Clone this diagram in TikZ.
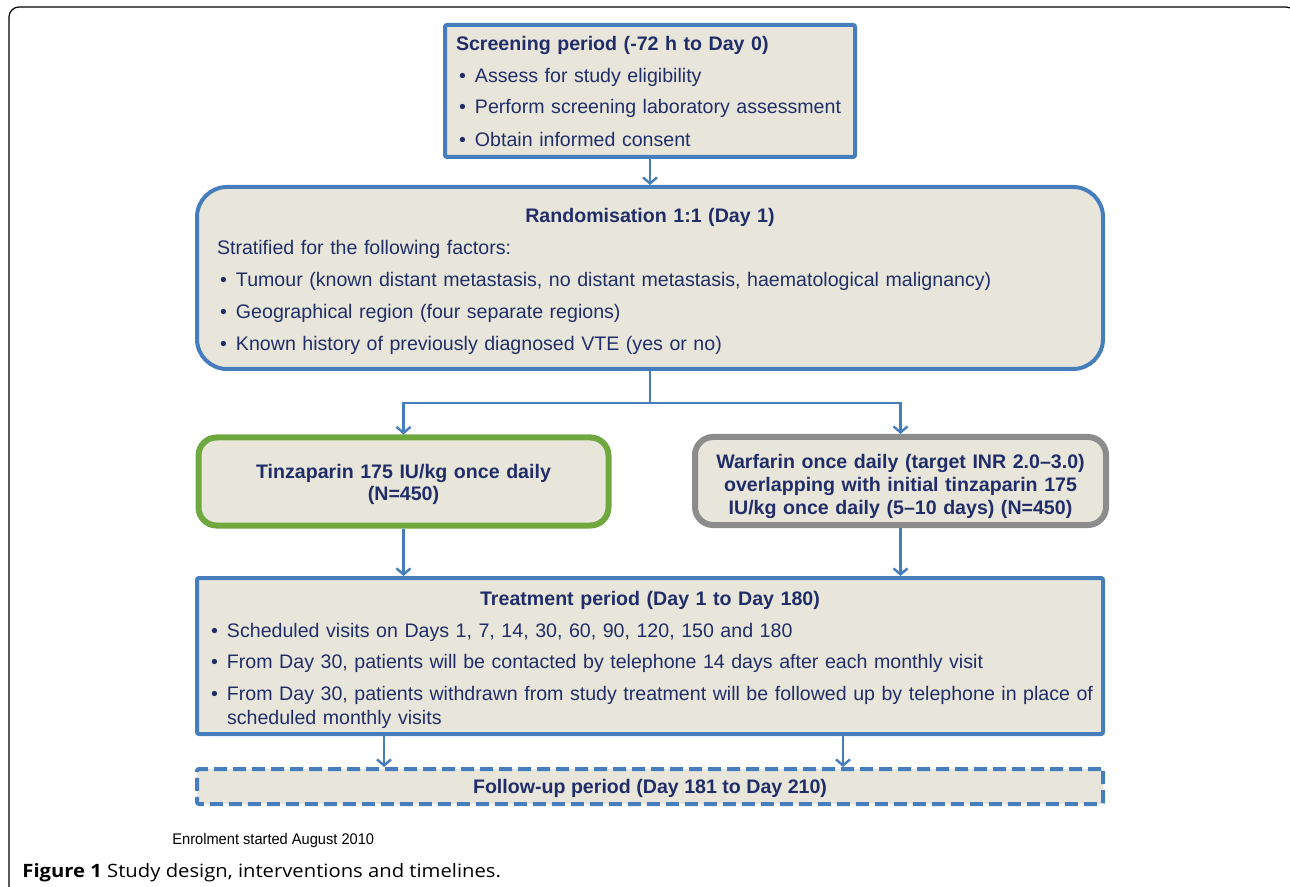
\documentclass[tikz,border=0pt]{standalone}
\usepackage{fontspec}
\setmainfont{Liberation Sans}
\newfontfamily\capfont[FakeStretch=1.1]{Open Sans}
\newfontfamily\notefont[FakeStretch=0.95]{Liberation Sans}
\usepackage{tikz}
\usetikzlibrary{positioning,calc,arrows.meta}

\definecolor{boxblue}{RGB}{70,126,189}
\definecolor{boxfill}{RGB}{232,230,218}
\definecolor{boxgreen}{RGB}{112,168,64}
\definecolor{boxgrey}{RGB}{140,140,140}
\definecolor{navy}{RGB}{33,45,105}

\newcommand{\bul}{\hspace*{1.5pt}\makebox[8pt][l]{\textbullet}}
\newcommand{\topstrut}[1]{\rule{0pt}{#1}}

\begin{document}
\begin{tikzpicture}[x=0.5pt, y=-0.5pt,
    pbox/.style={draw=boxblue, fill=boxfill, line width=2pt, rectangle, rounded corners=1pt,
        align=left, inner ysep=2pt, text=navy},
    armbox/.style={fill=boxfill, line width=3pt, rectangle, rounded corners=9pt, align=center,
        text=navy, font=\bfseries\fontsize{9.8}{10.9}\selectfont},
    arr/.style={-{Straight Barb[length=3pt,width=7pt]}, draw=boxblue, line width=1.2pt}
]
    \useasboundingbox (0,0) rectangle (1290,887);
    % outer frame
    \draw[black, line width=0.6pt, rounded corners=5pt] (9,920) -- (9,7) -- (1296,7) -- (1296,920);

    % Screening
    \node[pbox, minimum width=205pt, minimum height=66pt, inner xsep=5.5pt, text width=194pt,
        font=\fontsize{9.8}{16}\selectfont] (screen) at (650,91) {%
        {\bfseries Screening period (-72 h to Day 0)}\\
        \bul Assess for study eligibility\\
        \bul Perform screening laboratory assessment\\
        \bul Obtain informed consent};

    % Randomisation
    \node[pbox, rounded corners=15pt, minimum width=453pt, minimum height=91pt, inner xsep=10pt,
        text width=433pt, font=\fontsize{9.8}{16}\selectfont] (rand) at (650,278) {%
        \topstrut{10.3pt}\makebox[\linewidth]{\bfseries Randomisation 1:1 (Day 1)}\\
        Stratified for the following factors:\\
        \bul Tumour (known distant metastasis, no distant metastasis, haematological malignancy)\\
        \bul Geographical region (four separate regions)\\
        \bul Known history of previously diagnosed VTE (yes or no)};

    % Arms
    \node[armbox, draw=boxgreen, minimum width=205pt, minimum height=44pt, text width=190pt]
        (tinz) at (403.5,481.5) {\topstrut{10.2pt}Tinzaparin 175 IU/kg once daily\\(N=450)};
    \node[armbox, draw=boxgrey, minimum width=205.5pt, minimum height=44pt, text width=195pt,
        font=\bfseries\fontsize{9.8}{11.3}\selectfont]
        (warf) at (900.5,481) {\topstrut{12.5pt}Warfarin once daily (target INR 2.0--3.0)\\overlapping with initial tinzaparin 175\\IU/kg once daily (5--10 days) (N=450)};

    % Treatment
    \node[pbox, minimum width=453pt, minimum height=78pt, inner xsep=5.5pt, text width=442pt,
        font=\fontsize{9.8}{12}\selectfont] (treat) at (650,656) {%
        \topstrut{11.2pt}\makebox[\linewidth]{\bfseries Treatment period (Day 1 to Day 180)}\\[4pt]
        \bul Scheduled visits on Days 1, 7, 14, 30, 60, 90, 120, 150 and 180\\[3.5pt]
        \bul From Day 30, patients will be contacted by telephone 14 days after each monthly visit\\[4pt]
        \mbox{\bul From Day 30, patients withdrawn from study treatment will be followed up by telephone in place of}\\
        \hspace*{9.5pt}scheduled monthly visits};

    % Follow-up
    \node[pbox, dash pattern=on 6.5pt off 3pt, minimum width=453pt, minimum height=17.5pt,
        text height=7.1pt, text depth=0pt,
        font=\bfseries\fontsize{9.8}{12}\selectfont] (follow) at (650,786.5)
        {Follow-up period (Day 181 to Day 210)};

    % connectors
    \coordinate (split) at (650,403);
    \draw[arr] (screen.south) -- (rand.north);
    \draw[draw=boxblue, line width=1.2pt] (rand.south) -- (split);
    \draw[arr] (split) -| (tinz.north);
    \draw[arr] (split) -| (warf.north);
    \draw[arr] (tinz.south) -- (tinz.south |- treat.north);
    \draw[arr] (warf.south) -- (warf.south |- treat.north);
    \coordinate (out1) at ([xshift=-133pt]treat.south);
    \coordinate (out2) at ([xshift=96.5pt]treat.south);
    \draw[arr] (out1) -- (out1 |- follow.north);
    \draw[arr] (out2) -- (out2 |- follow.north);

    % notes
    \node[anchor=base west, inner sep=0pt, font=\notefont\fontsize{7.7}{9}\selectfont] (enrol)
        at (172,844) {Enrolment started August 2010};
    \node[anchor=base west, inner sep=0pt, font=\capfont\fontsize{9.2}{10}\selectfont] (caption)
        at (22,877) {\textbf{Figure 1} Study design, interventions and timelines.};
\end{tikzpicture}
\end{document}
